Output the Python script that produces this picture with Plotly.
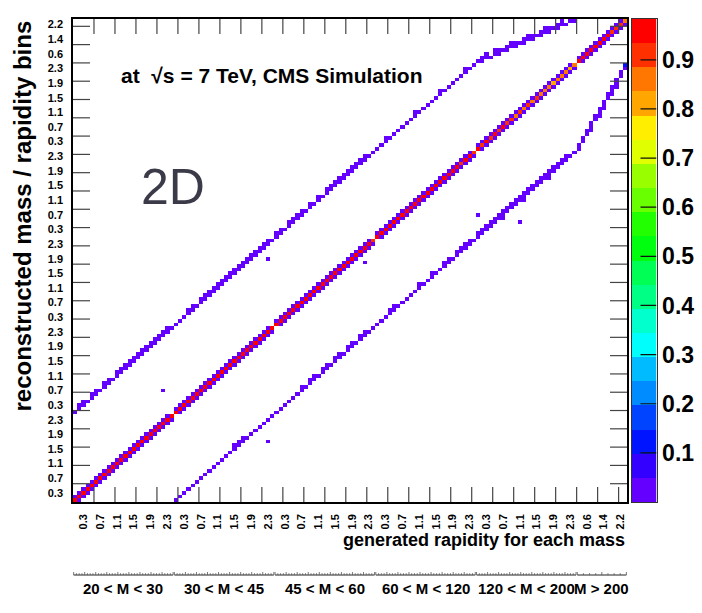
import math
import plotly.graph_objects as go

# ---------------------------------------------------------------- binning
MASS_LABELS = ["20 < M < 30", "30 < M < 45", "45 < M < 60",
               "60 < M < 120", "120 < M < 200", "M > 200"]
RAP_WIDTH = [0.1, 0.1, 0.1, 0.1, 0.1, 0.2]   # |y| bin width in each mass bin
RAP_MAX = 2.4
FINE_TICKS = ["0.3", "0.7", "1.1", "1.5", "1.9", "2.3"]
COARSE_TICKS = ["0.6", "1.4", "2.2"]

# ------------------------------------------------------ response fractions
# events reconstructed in their generated bin, per mass bin
DIAGONAL = [
    [0.96, 0.97, 0.95, 0.96, 0.97, 0.96, 0.95, 0.97, 0.96, 0.95, 0.96, 0.97,
     0.96, 0.95, 0.96, 0.97, 0.95, 0.96, 0.95, 0.96, 0.97, 0.95, 0.96, 0.94],
    [0.95, 0.96, 0.97, 0.96, 0.95, 0.96, 0.97, 0.96, 0.95, 0.97, 0.96, 0.95,
     0.96, 0.97, 0.96, 0.95, 0.96, 0.97, 0.95, 0.96, 0.95, 0.96, 0.95, 0.94],
    [0.96, 0.95, 0.97, 0.96, 0.95, 0.96, 0.97, 0.96, 0.95, 0.96, 0.97, 0.96,
     0.983, 0.96, 0.95, 0.96, 0.97, 0.96, 0.95, 0.96, 0.95, 0.94, 0.95, 0.93],
    [0.95, 0.96, 0.95, 0.96, 0.97, 0.95, 0.96, 0.95, 0.96, 0.94, 0.95, 0.96,
     0.95, 0.96, 0.94, 0.95, 0.96, 0.95, 0.94, 0.95, 0.93, 0.95, 0.94, 0.92],
    [0.94, 0.92, 0.95, 0.91, 0.94, 0.93, 0.95, 0.92, 0.90, 0.86, 0.91, 0.85,
     0.93, 0.87, 0.92, 0.85, 0.84, 0.86, 0.83, 0.85, 0.84, 0.86, 0.83, 0.87],
    [0.95, 0.96, 0.94, 0.97, 0.95, 0.96, 0.94, 0.95, 0.93, 0.92, 0.90, 0.85],
]

# migration into the next lower rapidity bin (gen bin r -> reco bin r-1)
RAP_DOWN = [
    [0.021, 0.018, 0.022, 0.019, 0.017, 0.020, 0.023, 0.018, 0.021, 0.019, 0.022, 0.017,
     0.020, 0.022, 0.018, 0.021, 0.019, 0.023, 0.018, 0.020, 0.019, 0.022, 0.021],
    [0.019, 0.022, 0.018, 0.020, 0.021, 0.017, 0.022, 0.019, 0.020, 0.018, 0.023, 0.019,
     0.021, 0.018, 0.020, 0.022, 0.019, 0.017, 0.021, 0.020, 0.022, 0.018, 0.023],
    [0.020, 0.018, 0.021, 0.019, 0.022, 0.020, 0.017, 0.021, 0.019, 0.022, 0.018, 0.020,
     0.021, 0.019, 0.023, 0.018, 0.020, 0.021, 0.019, 0.022, 0.020, 0.024, 0.021],
    [0.018, 0.021, 0.020, 0.019, 0.017, 0.022, 0.020, 0.021, 0.019, 0.023, 0.020, 0.018,
     0.021, 0.019, 0.022, 0.020, 0.019, 0.021, 0.023, 0.020, 0.024, 0.022, 0.025],
    [0.024, 0.027, 0.022, 0.029, 0.025, 0.026, 0.023, 0.028, 0.031, 0.027, 0.033, 0.026,
     0.030, 0.028, 0.034, 0.032, 0.029, 0.035, 0.031, 0.033, 0.030, 0.036, 0.032],
    [0.021, 0.019, 0.023, 0.020, 0.022, 0.024, 0.021, 0.025, 0.026, 0.028, 0.031],
]

# migration into the next higher rapidity bin (gen bin r -> reco bin r+1)
RAP_UP = [
    [0.019, 0.022, 0.020, 0.018, 0.021, 0.023, 0.019, 0.020, 0.022, 0.018, 0.021, 0.020,
     0.019, 0.023, 0.020, 0.018, 0.022, 0.019, 0.021, 0.020, 0.018, 0.022, 0.024],
    [0.021, 0.018, 0.020, 0.022, 0.019, 0.021, 0.018, 0.023, 0.020, 0.019, 0.021, 0.022,
     0.018, 0.020, 0.021, 0.019, 0.022, 0.020, 0.018, 0.021, 0.023, 0.020, 0.022],
    [0.018, 0.020, 0.022, 0.019, 0.021, 0.018, 0.020, 0.023, 0.019, 0.021, 0.020, 0.018,
     0.022, 0.020, 0.019, 0.021, 0.023, 0.020, 0.022, 0.019, 0.021, 0.020, 0.023],
    [0.020, 0.019, 0.021, 0.022, 0.018, 0.020, 0.023, 0.019, 0.021, 0.020, 0.022, 0.019,
     0.021, 0.023, 0.020, 0.022, 0.021, 0.019, 0.022, 0.024, 0.021, 0.023, 0.025],
    [0.026, 0.023, 0.028, 0.025, 0.027, 0.030, 0.026, 0.029, 0.032, 0.028, 0.031, 0.034,
     0.029, 0.033, 0.030, 0.035, 0.032, 0.034, 0.036, 0.031, 0.035, 0.033, 0.037],
    [0.020, 0.022, 0.019, 0.023, 0.021, 0.024, 0.022, 0.026, 0.025, 0.029, 0.033],
]

# migration into the next higher mass bin at the same rapidity
MASS_UP = [
    [0.021, 0.018, 0.024, 0.019, 0.022, 0.017, 0.020, 0.023, 0.019, 0.021, 0.018, 0.022,
     0.020, 0.024, 0.019, 0.021, 0.017, 0.022, 0.020, 0.018, 0.023, 0.019, 0.021, 0.016],
    [0.019, 0.022, 0.020, 0.018, 0.023, 0.021, 0.019, 0.024, 0.020, 0.022, 0.018, 0.021,
     0.025, 0.019, 0.022, 0.020, 0.023, 0.021, 0.019, 0.024, 0.020, 0.022, 0.018, 0.017],
    [0.018, 0.021, 0.023, 0.020, 0.019, 0.022, 0.020, 0.018, 0.021, 0.019, 0.023, 0.020,
     0.022, 0.019, 0.024, 0.021, 0.020, 0.023, 0.019, 0.022, 0.021, 0.024, 0.020, 0.018],
    [0.012, 0.014, 0.011, 0.013, 0.015, 0.012, 0.014, 0.013, 0.011, 0.015, 0.012, 0.014,
     0.013, 0.012, 0.016, 0.013, 0.014, 0.012, 0.015, 0.013, 0.014, 0.016, 0.013, 0.012],
    [0.009, 0.011, 0.010, 0.012, 0.009, 0.011, 0.010, 0.013, 0.011, 0.010, 0.012, 0.011,
     0.013, 0.010, 0.012, 0.011, 0.014, 0.012, 0.011, 0.013, 0.012, 0.014, 0.011, 0.010],
]
# further reco bins reached by the upward mass migration: (gen rapidity bin, shift, fraction)
MASS_UP_SPILL = [
    [(1, 1, 0.006), (2, 1, 0.008), (4, 1, 0.006), (5, 1, 0.007), (7, 1, 0.009),
     (8, 1, 0.008), (10, 1, 0.007), (11, 1, 0.009), (12, 1, 0.007), (13, 1, 0.008),
     (14, 1, 0.007), (15, 1, 0.008), (16, 1, 0.009), (17, 1, 0.008), (18, 1, 0.007),
     (19, 1, 0.007), (20, 1, 0.008), (21, 1, 0.007), (22, 1, 0.006)],
    [(3, 1, 0.006), (4, 1, 0.007), (6, 1, 0.007), (7, 1, 0.008), (8, 1, 0.006),
     (9, 1, 0.007), (10, 1, 0.009), (11, 1, 0.007), (12, 1, 0.008), (13, 1, 0.007),
     (14, 1, 0.006), (15, 1, 0.009), (16, 1, 0.008), (17, 1, 0.007), (18, 1, 0.007),
     (19, 1, 0.008), (20, 1, 0.009), (21, 1, 0.007), (22, 1, 0.006)],
    [(0, 1, 0.008), (1, 1, 0.007), (3, 1, 0.008), (4, 1, 0.009), (5, 1, 0.007),
     (6, 1, 0.008), (8, 1, 0.006), (10, 1, 0.006), (12, 1, 0.007), (13, 1, 0.008),
     (14, 1, 0.009), (15, 1, 0.007), (16, 1, 0.008), (17, 1, 0.007), (18, 1, 0.009),
     (19, 1, 0.008), (20, 1, 0.007), (21, 1, 0.008)],
    [(2, 1, 0.005), (9, 1, 0.006), (15, 1, 0.005), (21, 1, 0.006)],
    [(1, 1, 0.004), (2, 1, 0.004), (4, 1, 0.005), (5, 1, 0.005), (7, 1, 0.004),
     (8, 1, 0.004), (9, 1, 0.005), (11, 1, 0.004), (12, 1, 0.004), (13, 1, 0.005),
     (15, 1, 0.004), (16, 1, 0.004), (17, 1, 0.005), (19, 1, 0.004), (20, 1, 0.004)],
]

# migration into the next lower mass bin at the same rapidity (mass bins 2..6)
MASS_DOWN = [
    [0.014, 0.016, 0.013, 0.015, 0.017, 0.014, 0.016, 0.015, 0.013, 0.017, 0.014, 0.016,
     0.015, 0.018, 0.014, 0.016, 0.017, 0.015, 0.013, 0.016, 0.018, 0.015, 0.017, 0.014],
    [0.016, 0.018, 0.015, 0.017, 0.019, 0.016, 0.018, 0.017, 0.015, 0.019, 0.016, 0.018,
     0.017, 0.020, 0.016, 0.018, 0.019, 0.017, 0.015, 0.018, 0.020, 0.017, 0.019, 0.016],
    [0.019, 0.021, 0.018, 0.020, 0.022, 0.019, 0.021, 0.020, 0.018, 0.022, 0.019, 0.021,
     0.020, 0.023, 0.019, 0.021, 0.022, 0.020, 0.018, 0.021, 0.023, 0.020, 0.022, 0.019],
    [0.024, 0.026, 0.023, 0.025, 0.027, 0.024, 0.026, 0.025, 0.023, 0.027, 0.024, 0.026,
     0.025, 0.028, 0.024, 0.026, 0.027, 0.025, 0.023, 0.026, 0.028, 0.025, 0.027, 0.024],
    [0.018, 0.021, 0.019, 0.022, 0.020, 0.023, 0.021, 0.019, 0.022, 0.024, 0.020, 0.023,
     0.025, 0.022, 0.024, 0.021, 0.026, 0.023, 0.025, 0.027, 0.024, 0.028, 0.035, 0.130],
]
MASS_DOWN_SPILL = [
    [(14, 1, 0.006), (15, 1, 0.007), (16, 1, 0.006)],
    [(6, 1, 0.007), (8, 1, 0.006), (9, 1, 0.008), (11, 1, 0.007), (12, 1, 0.006),
     (14, 1, 0.008), (15, 1, 0.007), (17, 1, 0.006), (18, 1, 0.008), (20, 1, 0.007),
     (21, 1, 0.006)],
    [(3, 1, 0.007), (4, 1, 0.006), (10, 1, 0.008), (13, 1, 0.007), (16, 1, 0.006),
     (17, 1, 0.008), (19, 1, 0.007), (20, 1, 0.006), (21, 1, 0.008), (22, 1, 0.007)],
    [(0, 1, 0.008), (1, 1, 0.009), (2, 1, 0.008), (3, 1, 0.010), (4, 1, 0.009),
     (5, 1, 0.008), (6, 1, 0.010), (7, 1, 0.009), (8, 1, 0.011), (9, 1, 0.010),
     (10, 1, 0.009), (11, 1, 0.011), (12, 1, 0.010), (13, 1, 0.012), (14, 1, 0.011),
     (15, 1, 0.010), (16, 1, 0.012), (17, 1, 0.011), (18, 1, 0.013), (19, 1, 0.012),
     (20, 1, 0.011), (21, 1, 0.013), (6, -1, 0.005), (11, -1, 0.006), (17, -1, 0.005)],
    [(3, -1, 0.006), (5, -1, 0.007), (6, -1, 0.006), (8, -1, 0.007), (9, -1, 0.008)],
]

# isolated entries: ((gen mass bin, gen rap bin), (reco mass bin, reco rap bin), fraction)
ISOLATED = [
    ((0, 21), (1, 6), 0.012),
    ((1, 22), (2, 18), 0.011),
    ((2, 21), (2, 17), 0.010),
    ((1, 22), (0, 16), 0.012),
    ((4, 0), (3, 6), 0.011),
    ((4, 10), (3, 4), 0.010),
]

# ROOT "pretty" palette sampled at 20 contour levels
PALETTE = ["#6300FF", "#3300FF", "#0014FF", "#0044FF", "#008BFF", "#00BBFF",
           "#00FFFC", "#00FFCC", "#00FF85", "#00FF55", "#00FF0E", "#22FF00",
           "#69FF00", "#99FF00", "#E0FF00", "#FFEE00", "#FFA700", "#FF7700",
           "#FF3000", "#FF0000"]
COLORBAR_TICKS = [0.1, 0.2, 0.3, 0.4, 0.5, 0.6, 0.7, 0.8, 0.9]

# ---------------------------------------------------------- build matrix
n_bins = [round(RAP_MAX / w) for w in RAP_WIDTH]
start = [sum(n_bins[:b]) for b in range(len(n_bins))]
N = sum(n_bins)


def gidx(b, r):
    return start[b] + r


z = [[None] * N for _ in range(N)]   # z[reco][gen]


def put(gen, reco, v):
    z[reco][gen] = v


def overlap(b_from, r, b_to):
    lo = r * RAP_WIDTH[b_from]
    hi = lo + RAP_WIDTH[b_from]
    w = RAP_WIDTH[b_to]
    return list(range(int(math.floor(lo / w + 1e-9)), int(math.ceil(hi / w - 1e-9))))


for b in range(len(n_bins)):
    for r in range(n_bins[b]):
        put(gidx(b, r), gidx(b, r), DIAGONAL[b][r])
    for r in range(1, n_bins[b]):
        put(gidx(b, r), gidx(b, r - 1), RAP_DOWN[b][r - 1])
    for r in range(n_bins[b] - 1):
        put(gidx(b, r), gidx(b, r + 1), RAP_UP[b][r])


def migrate(b_from, b_to, values, spills):
    it = iter(values)
    for r in range(n_bins[b_from]):
        for t in overlap(b_from, r, b_to):
            put(gidx(b_from, r), gidx(b_to, t), next(it))
    for r, shift, v in spills:
        land = overlap(b_from, r, b_to)
        t = land[-1] + shift if shift > 0 else land[0] + shift
        if 0 <= t < n_bins[b_to]:
            put(gidx(b_from, r), gidx(b_to, t), v)


for b in range(len(MASS_UP)):
    migrate(b, b + 1, MASS_UP[b], MASS_UP_SPILL[b])
for k in range(len(MASS_DOWN)):
    migrate(k + 1, k, MASS_DOWN[k], MASS_DOWN_SPILL[k])
for (gb, gr), (rb, rr), v in ISOLATED:
    put(gidx(gb, gr), gidx(rb, rr), v)

ZMAX = max(v for row in z for v in row if v is not None)
n_lev = len(PALETTE)
colorscale = []
for k, c in enumerate(PALETTE):
    colorscale.append([k / n_lev, c])
    colorscale.append([(k + 1) / n_lev, c])

# rapidity tick labels sit on the bin whose upper edge carries the label
tick_pos, tick_txt = [], []
for b in range(len(n_bins)):
    labels = COARSE_TICKS if RAP_WIDTH[b] > 0.1 else FINE_TICKS
    for lab in labels:
        r = round(float(lab) / RAP_WIDTH[b]) - 1
        tick_pos.append(gidx(b, r))
        tick_txt.append(lab)

# ---------------------------------------------------------- geometry (px)
W, H = 702, 613
M_L, M_T = 73, 19
PLOT_W, PLOT_H = 554, 483
paper_w = W - M_L          # right margin is 0; the colour scale lives in its own axes
paper_h = H - M_T          # bottom margin is 0; the mass scales live below the matrix
x_dom1 = PLOT_W / paper_w
y_dom0 = 1 - PLOT_H / paper_h
CB_L, CB_R = 631.5, 656.5  # colour scale box


def px_x(px):
    return (px - M_L) / paper_w


def px_y(py):
    return (H - py) / paper_h


FONT = "Liberation Sans"
TICK_COLOR = "#444"

fig = go.Figure()
fig.add_trace(go.Heatmap(
    z=z, x=list(range(N)), y=list(range(N)),
    zmin=0, zmax=ZMAX, colorscale=colorscale, hoverongaps=False, showscale=False,
))

# frame tick marks every five bins on all four sides
bins_per_px_x = N / PLOT_W
bins_per_px_y = N / PLOT_H
len_x = 15 * bins_per_px_y     # vertical ticks on bottom / top
len_y = 17 * bins_per_px_x     # horizontal ticks on left / right
lo, hi = -0.5, N - 0.5
tx, ty = [], []
for e in [k - 0.5 for k in range(5, N, 5)]:
    tx += [e, e, None, e, e, None]
    ty += [lo, lo + len_x, None, hi, hi - len_x, None]
    tx += [lo, lo + len_y, None, hi, hi - len_y, None]
    ty += [e, e, None, e, e, None]
fig.add_trace(go.Scatter(x=tx, y=ty, mode="lines", hoverinfo="skip",
                         line=dict(color=TICK_COLOR, width=1.2), showlegend=False))

# colour scale: one cell per contour level
step = ZMAX / n_lev
lev_centres = [(k + 0.5) * step for k in range(n_lev)]
fig.add_trace(go.Heatmap(
    z=[[v] for v in lev_centres], x=[0.5], y=lev_centres,
    zmin=0, zmax=ZMAX, colorscale=colorscale, showscale=False,
    xaxis="x2", yaxis="y2", hoverinfo="skip",
))
cb_tick = 16 / (CB_R - CB_L)
cx, cy = [], []
for v in COLORBAR_TICKS:
    cx += [1, 1 - cb_tick, None]
    cy += [v, v, None]
fig.add_trace(go.Scatter(x=cx, y=cy, mode="lines", hoverinfo="skip", xaxis="x2", yaxis="y2",
                         line=dict(color="#111", width=1.2), showlegend=False))

axis_common = dict(
    range=[-0.5, N - 0.5], showgrid=False, zeroline=False,
    showline=True, linecolor="black", linewidth=1.5, mirror=True,
    ticks="", tickmode="array", tickvals=tick_pos, ticktext=tick_txt,
    tickfont=dict(family=FONT, size=11, weight="bold", color="black"),
)

# one short scale line per mass bin below the rapidity labels
shapes, annotations = [], []
mass_line_y = px_y(575)
for b in range(len(n_bins)):
    x0 = start[b] - 0.5 + 0.15
    x1 = start[b] + n_bins[b] - 0.5 - 0.15
    shapes.append(dict(type="line", xref="x", yref="paper", x0=x0, x1=x1,
                       y0=mass_line_y, y1=mass_line_y,
                       line=dict(color="#222", width=1)))
    n_div = 36 if n_bins[b] > 12 else 8
    for k in range(n_div + 1):
        xx = x0 + (x1 - x0) * k / n_div
        ln = 3.0 if k % 4 == 0 else 1.8
        shapes.append(dict(type="line", xref="x", yref="paper", x0=xx, x1=xx,
                           y0=mass_line_y, y1=mass_line_y + ln / paper_h,
                           line=dict(color="#555", width=0.8)))
    annotations.append(dict(
        text=MASS_LABELS[b], xref="x", yref="paper",
        x=start[b] + n_bins[b] / 2 - 0.5, y=px_y(588),
        xanchor="center", yanchor="middle", showarrow=False,
        font=dict(family=FONT, size=15, weight="bold", color="black"),
    ))

annotations += [
    dict(text="reconstructed mass / rapidity bins", textangle=-90,
         xref="paper", yref="paper", x=px_x(22), y=px_y(19),
         xanchor="center", yanchor="top", showarrow=False,
         font=dict(family=FONT, size=24, weight="bold", color="black")),
    dict(text="generated rapidity for each mass", xref="paper", yref="paper",
         x=x_dom1, y=px_y(540), xanchor="right", yanchor="middle", showarrow=False,
         font=dict(family=FONT, size=18, weight="bold", color="black")),
    dict(text="at  \u221as = 7 TeV, CMS Simulation", xref="paper", yref="paper",
         x=px_x(119), y=px_y(75),
         xanchor="left", yanchor="middle", showarrow=False,
         font=dict(family=FONT, size=21, weight="bold", color="black")),
    dict(text="2D", xref="paper", yref="paper",
         x=px_x(139), y=px_y(187),
         xanchor="left", yanchor="middle", showarrow=False,
         font=dict(family=FONT, size=50, color="#3a3a48")),
]

fig.update_layout(
    width=W, height=H,
    margin=dict(l=M_L, r=0, t=M_T, b=0, pad=0, autoexpand=False),
    paper_bgcolor="white", plot_bgcolor="white",
    xaxis=dict(axis_common, domain=[0, x_dom1], tickangle=-90, ticklabelstandoff=6,
               anchor="y"),
    yaxis=dict(axis_common, domain=[y_dom0, 1], ticklabelstandoff=6, anchor="x"),
    xaxis2=dict(domain=[px_x(CB_L), px_x(CB_R)], range=[0, 1], anchor="y2",
                showgrid=False, zeroline=False, showticklabels=False, ticks="",
                showline=True, mirror=True, linecolor="#333", linewidth=1),
    yaxis2=dict(domain=[y_dom0, 1], range=[0, ZMAX], anchor="x2", side="right",
                showgrid=False, zeroline=False, ticks="",
                tickmode="array", tickvals=COLORBAR_TICKS,
                ticktext=[f"{v:.1f}" for v in COLORBAR_TICKS],
                tickfont=dict(family=FONT, size=23, weight="bold", color="black"),
                showline=True, mirror=True, linecolor="#333", linewidth=1),
    showlegend=False,
    shapes=shapes,
    annotations=annotations,
)

fig.write_html("out.html")
